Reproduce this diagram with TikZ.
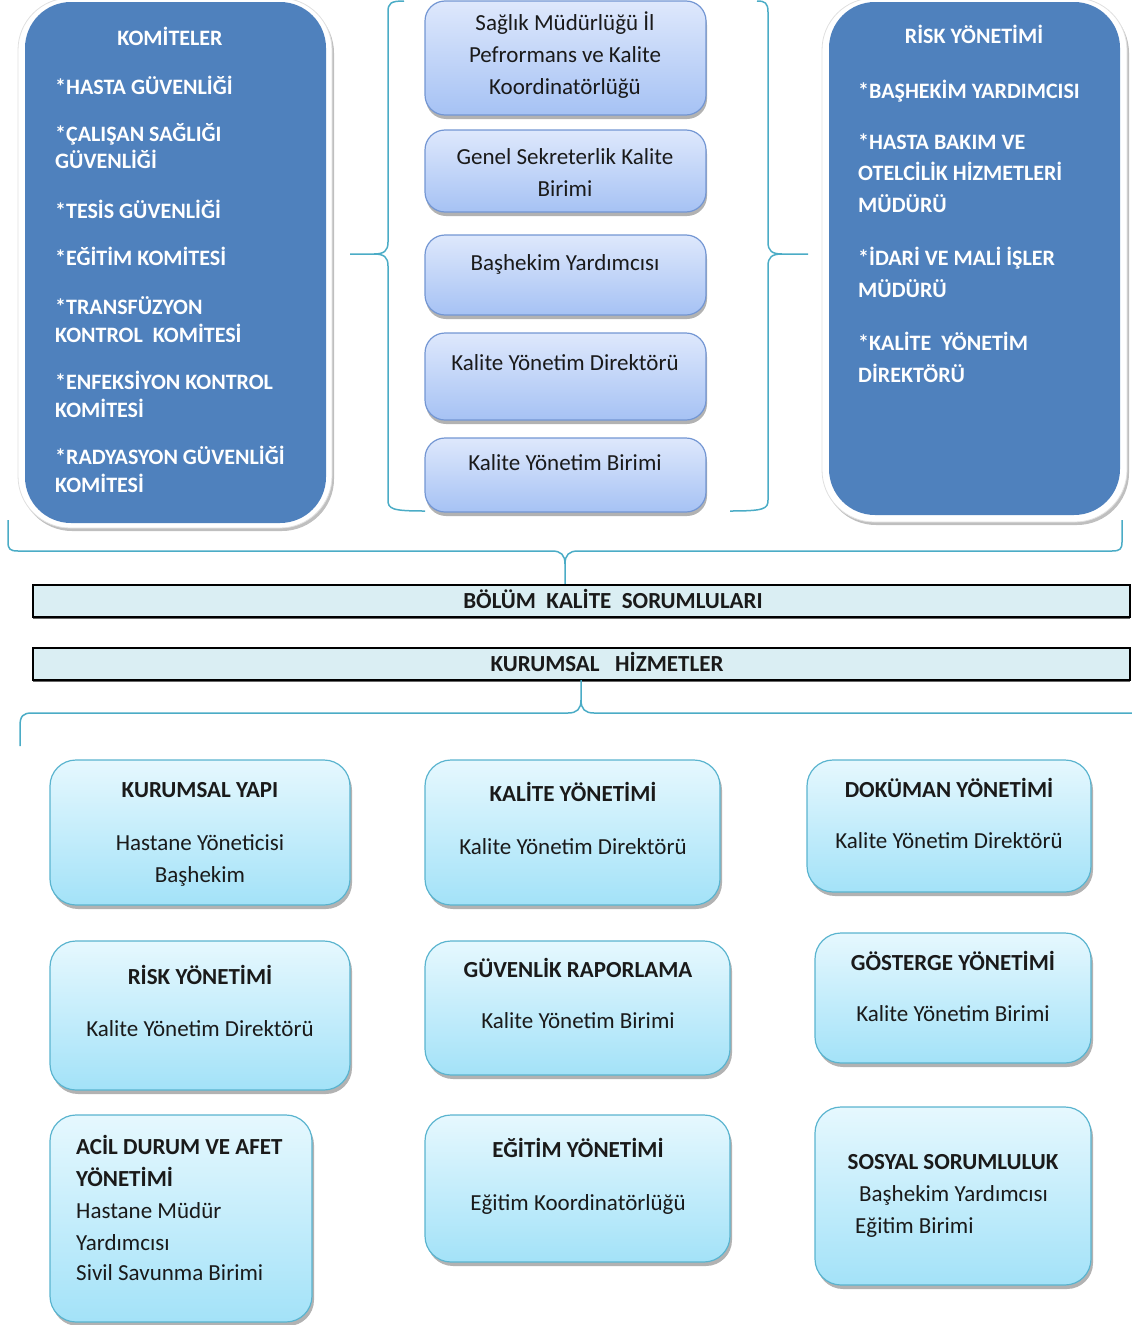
\documentclass[tikz,border=0pt]{standalone}
\usepackage{fontspec}
\setmainfont{Carlito}
\usetikzlibrary{shadows}
\definecolor{dblue}{HTML}{4F81BD}
\definecolor{mtop}{HTML}{DEE8FC}
\definecolor{mbot}{HTML}{A6C2F4}
\definecolor{mborder}{HTML}{7396D3}
\definecolor{ctop}{HTML}{E6F8FE}
\definecolor{cbot}{HTML}{A3E2F8}
\definecolor{cborder}{HTML}{5AB4CF}
\definecolor{brk}{HTML}{4BACC6}
\definecolor{barfill}{HTML}{DAEEF3}
\definecolor{dtext}{HTML}{1A1A1A}
\begin{document}
\begin{tikzpicture}[x=1pt,y=-1pt,
  boxat/.style 2 args={minimum width=#1, minimum height=#2, anchor=north west, inner sep=0pt, outer sep=0pt},
  outerbox/.style={draw=black!12, line width=0.8pt, fill=white, rounded corners=52pt,
     drop shadow={shadow xshift=2pt, shadow yshift=-3pt, fill=black, opacity=0.25}},
  bluebox/.style={fill=dblue, rounded corners=46pt},
  mbox/.style={draw=mborder, line width=1.2pt, rounded corners=20pt, top color=mtop, bottom color=mbot,
     drop shadow={shadow xshift=1pt, shadow yshift=-4pt, fill=black, opacity=0.3}},
  cbox/.style={draw=cborder, line width=1.2pt, rounded corners=26pt, top color=ctop, bottom color=cbot,
     drop shadow={shadow xshift=2pt, shadow yshift=-4pt, fill=black, opacity=0.3}},
  bar/.style={draw=black, line width=1.2pt, fill=barfill,
     drop shadow={shadow xshift=0pt, shadow yshift=-1.5pt, fill=black, opacity=0.6}},
  brace/.style={draw=brk, line width=1.5pt, line join=round},
  txt/.style={font=\fontsize{23}{27}\selectfont, text=dtext, inner sep=0pt},
  btxt/.style={font=\fontsize{23}{27}\selectfont\bfseries, text=dtext, inner sep=0pt},
  wtxt/.style={font=\fontsize{22}{26}\selectfont\bfseries, text=white, inner sep=0pt}
]
\useasboundingbox (0,0) rectangle (1132,1325);

% ---------- top-left blue box ----------
\node[outerbox, boxat={314}{530}] (kouter) at (18,-2) {};
\node[bluebox, boxat={301}{521}] (kom) at (25,2) {};
\node[wtxt, anchor=base] (komt) at (170,45) {KOMİTELER};
\foreach \y/\t [count=\i] in {94/{*HASTA GÜVENLİĞİ},141/{*ÇALIŞAN SAĞLIĞI},168/{GÜVENLİĞİ},
   218/{*TESİS GÜVENLİĞİ},265/{*EĞİTİM KOMİTESİ},314/{*TRANSFÜZYON},342/{KONTROL\ \ KOMİTESİ},
   389/{*ENFEKSİYON KONTROL},417/{KOMİTESİ},464/{*RADYASYON GÜVENLİĞİ},492/{KOMİTESİ}}
  \node[wtxt, anchor=base west] (k\i) at (55,\y) {\t};

% ---------- top-right blue box ----------
\node[outerbox, boxat={305}{524}] (router) at (822,-2) {};
\node[bluebox, boxat={291}{513}] (risk) at (829,2) {};
\node[wtxt, anchor=base] (riskt) at (974,43) {RİSK YÖNETİMİ};
\foreach \y/\t [count=\i] in {98/{*BAŞHEKİM YARDIMCISI},149/{*HASTA BAKIM VE},180/{OTELCİLİK HİZMETLERİ},
   212/{MÜDÜRÜ},265/{*İDARİ VE MALİ İŞLER},297/{MÜDÜRÜ},350/{*KALİTE\ \ YÖNETİM},382/{DİREKTÖRÜ}}
  \node[wtxt, anchor=base west] (r\i) at (858,\y) {\t};

% ---------- middle column ----------
\node[mbox, boxat={281}{114}] (m1) at (425,1) {};
\node[mbox, boxat={281}{82}] (m2) at (425,130) {};
\node[mbox, boxat={281}{80}] (m3) at (425,235) {};
\node[mbox, boxat={281}{87}] (m4) at (425,333) {};
\node[mbox, boxat={281}{74}] (m5) at (425,438) {};
\foreach \y/\t [count=\i] in {30/{Sağlık Müdürlüğü İl},62/{Pefrormans ve Kalite},94/{Koordinatörlüğü},
   164/{Genel Sekreterlik Kalite},196/{Birimi},270/{Başhekim Yardımcısı},
   370/{Kalite Yönetim Direktörü},470/{Kalite Yönetim Birimi}}
  \node[txt, anchor=base] (mt\i) at (565,\y) {\t};

% ---------- braces around middle column ----------
\draw[brace] (404,1) .. controls (391,1) and (388,3) .. (388,12) -- (388,242)
   .. controls (388,251) and (384,254) .. (374,254) -- (350,254);
\draw[brace] (374,254) .. controls (384,254) and (388,257) .. (388,266) -- (388,500)
   .. controls (388,509) and (392,511) .. (425,511);
\draw[brace] (757,1) .. controls (765,1) and (768,3) .. (768,12) -- (768,242)
   .. controls (768,251) and (772,254) .. (782,254) -- (808,254);
\draw[brace] (782,254) .. controls (772,254) and (768,257) .. (768,266) -- (768,500)
   .. controls (768,509) and (764,511) .. (730,511);

% ---------- bracket to BOLUM bar ----------
\coordinate (tl) at (8,520);
\coordinate (tr) at (1122,520);
\draw[brace] (tl) -- (8,542) .. controls (8,549) and (10,551) .. (18,551) -- (552,551)
   .. controls (561,551) and (565,555) .. (565,564) -- (565,584);
\draw[brace] (tr) -- (1122,542) .. controls (1122,549) and (1120,551) .. (1112,551) -- (578,551)
   .. controls (569,551) and (565,555) .. (565,564);

% ---------- bars ----------
\node[bar, boxat={1097}{32}] (bolum) at (33,585) {};
\node[btxt, anchor=base] (bolumt) at (613,608) {BÖLÜM\ \ KALİTE\ \ SORUMLULARI};
\node[bar, boxat={1097}{32}] (kurum) at (33,648) {};
\node[btxt, anchor=base] (kurumt) at (607,671) {KURUMSAL\ \ \ HİZMETLER};

% ---------- bracket below KURUMSAL bar ----------
\coordinate (bl) at (20,746);
\coordinate (br) at (1134,713);
\draw[brace] (kurum.south -| 581,0) -- (581,700) .. controls (581,709) and (577,713) .. (568,713) -- (32,713)
   .. controls (23,713) and (20,716) .. (20,726) -- (bl);
\draw[brace] (581,700) .. controls (581,709) and (585,713) .. (594,713) -- (br);

% ---------- bottom boxes ----------
\node[cbox, boxat={300}{145}] (c1) at (50,760) {};
\node[cbox, boxat={295}{145}] (c2) at (425,760) {};
\node[cbox, boxat={284}{132}] (c3) at (807,760) {};
\node[cbox, boxat={300}{149}] (c4) at (50,941) {};
\node[cbox, boxat={305}{134}] (c5) at (425,941) {};
\node[cbox, boxat={276}{130}] (c6) at (815,933) {};
\node[cbox, boxat={262}{207}] (c7) at (50,1115) {};
\node[cbox, boxat={305}{147}] (c8) at (425,1115) {};
\node[cbox, boxat={276}{178}] (c9) at (815,1107) {};

\node[btxt, anchor=base] (c1a) at (200,797) {KURUMSAL YAPI};
\node[txt, anchor=base] (c1b) at (200,850) {Hastane Yöneticisi};
\node[txt, anchor=base] (c1c) at (200,882) {Başhekim};

\node[btxt, anchor=base] (c2a) at (573,801) {KALİTE YÖNETİMİ};
\node[txt, anchor=base] (c2b) at (573,854) {Kalite Yönetim Direktörü};

\node[btxt, anchor=base] (c3a) at (949,797) {DOKÜMAN YÖNETİMİ};
\node[txt, anchor=base] (c3b) at (949,848) {Kalite Yönetim Direktörü};

\node[btxt, anchor=base] (c4a) at (200,984) {RİSK YÖNETİMİ};
\node[txt, anchor=base] (c4b) at (200,1036) {Kalite Yönetim Direktörü};

\node[btxt, anchor=base] (c5a) at (578,977) {GÜVENLİK RAPORLAMA};
\node[txt, anchor=base] (c5b) at (578,1028) {Kalite Yönetim Birimi};

\node[btxt, anchor=base] (c6a) at (953,970) {GÖSTERGE YÖNETİMİ};
\node[txt, anchor=base] (c6b) at (953,1021) {Kalite Yönetim Birimi};

\node[btxt, anchor=base west] (c7a) at (76,1154) {ACİL DURUM VE AFET};
\node[btxt, anchor=base west] (c7b) at (76,1186) {YÖNETİMİ};
\node[txt, anchor=base west] (c7c) at (76,1218) {Hastane Müdür};
\node[txt, anchor=base west] (c7d) at (76,1250) {Yardımcısı};
\node[txt, anchor=base west] (c7e) at (76,1280) {Sivil Savunma Birimi};

\node[btxt, anchor=base] (c8a) at (578,1157) {EĞİTİM YÖNETİMİ};
\node[txt, anchor=base] (c8b) at (578,1210) {Eğitim Koordinatörlüğü};

\node[btxt, anchor=base] (c9a) at (953,1169) {SOSYAL SORUMLULUK};
\node[txt, anchor=base west] (c9b) at (859,1201) {Başhekim Yardımcısı};
\node[txt, anchor=base west] (c9c) at (855,1233) {Eğitim Birimi};
\end{tikzpicture}
\end{document}
